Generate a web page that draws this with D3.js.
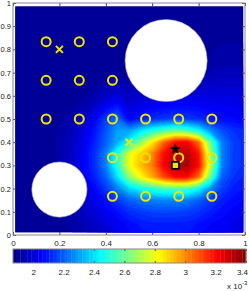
<!DOCTYPE html>
<meta charset="utf-8">
<style>
body { margin: 0; background: #fff; }
svg { display: block; font-family: "Liberation Sans", Arial, sans-serif; }
.axis text { font-size: 8px; fill: #222; }
.axis line { stroke: #444; }
.yaxis text { font-size: 7.5px; }
.frame { fill: none; stroke: #888; }
.obstacle { fill: #fff; stroke: #aaa; stroke-width: 0.6; }
.sensor { fill: none; stroke: #f2e400; stroke-width: 2; }
</style>
<body>
<script src="https://d3js.org/d3.v7.min.js"></script>
<script>

// field samples on a 0.05 grid, rows from y = 1 (top) down to y = 0, columns x = 0 .. 1
var fieldCols = 21, fieldRows = 21, fieldStep = 0.05;
var field = [
  1.90,1.90,1.90,1.90,1.90,1.90,1.90,1.90,1.90,1.90,1.90,1.90,1.90,1.90,1.90,1.90,1.90,1.90,1.90,1.90,1.90,
  1.90,1.90,1.90,1.90,1.90,1.90,1.90,1.90,1.90,1.90,1.90,1.90,1.90,1.90,1.90,1.90,1.90,1.90,1.90,1.90,1.90,
  1.90,1.90,1.90,1.90,1.90,1.90,1.90,1.90,1.90,1.90,1.90,1.90,1.90,1.90,1.90,1.90,1.90,1.90,1.91,1.91,1.91,
  1.90,1.90,1.90,1.90,1.90,1.90,1.90,1.90,1.90,1.90,1.90,1.90,1.90,1.90,1.90,1.90,1.90,1.90,1.91,1.91,1.91,
  1.90,1.90,1.90,1.90,1.90,1.90,1.90,1.90,1.90,1.90,1.90,1.90,1.90,1.90,1.90,1.90,1.90,1.91,1.92,1.92,1.92,
  1.90,1.90,1.90,1.90,1.90,1.90,1.90,1.90,1.90,1.90,1.90,1.90,1.90,1.90,1.90,1.90,1.91,1.92,1.93,1.93,1.93,
  1.90,1.90,1.90,1.90,1.90,1.90,1.90,1.90,1.90,1.90,1.90,1.90,1.90,1.91,1.91,1.92,1.93,1.94,1.95,1.95,1.95,
  1.90,1.90,1.90,1.90,1.90,1.90,1.90,1.91,1.93,1.94,1.94,1.94,1.95,1.95,1.96,1.96,1.97,1.97,1.98,1.98,1.98,
  1.90,1.90,1.90,1.90,1.90,1.90,1.91,1.93,1.97,2.00,1.97,1.98,1.99,2.00,2.00,2.01,2.01,2.01,2.01,2.01,2.00,
  1.90,1.90,1.90,1.90,1.90,1.91,1.93,1.97,2.05,2.10,2.00,2.03,2.05,2.06,2.07,2.07,2.06,2.05,2.04,2.04,2.03,
  1.90,1.90,1.90,1.90,1.91,1.93,1.97,2.05,2.15,2.22,2.05,2.10,2.12,2.14,2.15,2.14,2.12,2.09,2.07,2.06,2.05,
  1.90,1.90,1.90,1.90,1.92,1.95,2.00,2.08,2.18,2.30,2.30,2.40,2.48,2.55,2.60,2.55,2.45,2.28,2.17,2.13,2.11,
  1.90,1.90,1.90,1.90,1.92,1.96,2.02,2.10,2.20,2.32,2.45,2.65,2.85,3.05,3.20,3.22,3.05,2.60,2.25,2.15,2.12,
  1.90,1.90,1.90,1.90,1.92,1.97,2.04,2.12,2.25,2.50,2.78,2.90,3.00,3.20,3.30,3.32,3.18,2.70,2.25,2.15,2.12,
  1.90,1.90,1.90,1.90,1.92,1.97,2.04,2.12,2.25,2.50,2.80,2.92,3.02,3.22,3.32,3.34,3.20,2.75,2.25,2.15,2.12,
  1.90,1.90,1.90,1.90,1.92,1.96,2.03,2.10,2.20,2.40,2.65,2.82,2.95,3.10,3.20,3.20,3.05,2.60,2.20,2.13,2.10,
  1.90,1.90,1.90,1.90,1.92,1.95,2.00,2.06,2.14,2.25,2.38,2.45,2.50,2.55,2.55,2.55,2.45,2.28,2.15,2.10,2.08,
  1.90,1.90,1.90,1.90,1.91,1.94,1.98,2.03,2.08,2.14,2.20,2.23,2.25,2.26,2.26,2.25,2.20,2.14,2.10,2.07,2.06,
  1.90,1.90,1.90,1.90,1.91,1.93,1.96,2.00,2.04,2.08,2.12,2.14,2.16,2.16,2.16,2.15,2.13,2.10,2.07,2.05,2.04,
  1.90,1.90,1.90,1.90,1.91,1.92,1.94,1.97,2.00,2.04,2.07,2.09,2.10,2.10,2.10,2.10,2.08,2.06,2.05,2.03,2.02,
  1.90,1.90,1.90,1.90,1.90,1.91,1.93,1.95,1.98,2.02,2.05,2.07,2.08,2.08,2.08,2.08,2.06,2.05,2.04,2.02,2.01
];

// colour limits (x 1e-3)
var cMin = 1.867, cMax = 3.4;

// sensors
var sensorX = [1/7, 2/7, 3/7, 1/7, 2/7, 3/7, 1/7, 2/7, 3/7, 4/7, 5/7, 6/7, 3/7, 4/7, 5/7, 6/7, 3/7, 4/7, 5/7, 6/7];
var sensorY = [5/6, 5/6, 5/6, 4/6, 4/6, 4/6, 3/6, 3/6, 3/6, 3/6, 3/6, 3/6, 2/6, 2/6, 2/6, 2/6, 1/6, 1/6, 1/6, 1/6];

// obstacles
var obstacleX = [0.66, 0.2];
var obstacleY = [0.752, 0.196];
var obstacleR = [0.177, 0.119];

// other markers
var crossX = [0.2, 0.5], crossY = [0.8, 0.4];
var starX = [0.7], starY = [0.37];
var squareX = [0.7], squareY = [0.3];

var xTicks = [0, 0.2, 0.4, 0.6, 0.8, 1];
var yTicks = [0, 0.1, 0.2, 0.3, 0.4, 0.5, 0.6, 0.7, 0.8, 0.9, 1];
var cTicks = [2, 2.2, 2.4, 2.6, 2.8, 3, 3.2, 3.4];

var width = 249, height = 291;

var svg = d3.select("body").append("svg")
    .attr("width", width)
    .attr("height", height);

var x = d3.scaleLinear().domain([0, 1]).range([13, 245]);
var y = d3.scaleLinear().domain([0, 1]).range([235, 3]);

// jet colormap, 64 levels
var jet = d3.scaleLinear()
    .domain([0, 0.125, 0.375, 0.625, 0.875, 1])
    .range(["#000080", "#0000ff", "#00ffff", "#ffff00", "#ff0000", "#800000"]);
var jetColors = d3.range(64).map(function(k) { return jet((k + 0.5) / 64); });
var color = d3.scaleQuantize().domain([cMin, cMax]).range(jetColors);

// field as filled contours
svg.append("clipPath").attr("id", "fieldClip")
  .append("rect")
    .attr("x", x(0.01))
    .attr("y", y(0.985))
    .attr("width", x(0.992) - x(0.01))
    .attr("height", y(0.012) - y(0.985));

var gridToPlot = d3.geoTransform({
  point: function(px, py) {
    this.stream.point(x(fieldStep * (px - 0.5)), y(1 - fieldStep * (py - 0.5)));
  }
});
var path = d3.geoPath(gridToPlot);

var thresholds = d3.range(64).map(function(k) { return cMin + k * (cMax - cMin) / 64; });
var contours = d3.contours()
    .size([fieldCols, fieldRows])
    .thresholds(thresholds)(field);

svg.append("g")
    .attr("clip-path", "url(#fieldClip)")
  .selectAll("path")
  .data(contours)
  .enter().append("path")
    .attr("d", path)
    .attr("fill", function(d) { return color(d.value + 1e-6); })
    .attr("stroke", function(d) { return color(d.value + 1e-6); })
    .attr("stroke-width", 0.3);

// obstacles
svg.append("g").selectAll("circle")
  .data(obstacleX)
  .enter().append("circle")
    .attr("class", "obstacle")
    .attr("cx", function(d) { return x(d); })
    .attr("cy", function(d, i) { return y(obstacleY[i]); })
    .attr("r", function(d, i) { return x(obstacleR[i]) - x(0); });

// sensors
svg.append("g").selectAll("circle")
  .data(sensorX)
  .enter().append("circle")
    .attr("class", "sensor")
    .attr("cx", function(d) { return x(d); })
    .attr("cy", function(d, i) { return y(sensorY[i]); })
    .attr("r", 4.5);

// crosses
svg.append("g").selectAll("path")
  .data(crossX)
  .enter().append("path")
    .attr("d", d3.symbol().type(d3.symbolTimes).size(34))
    .attr("transform", function(d, i) { return "translate(" + x(d) + "," + y(crossY[i]) + ")"; })
    .attr("fill", "none")
    .attr("stroke", "#f2e400")
    .attr("stroke-width", 2);

// star
svg.append("g").selectAll("path")
  .data(starX)
  .enter().append("path")
    .attr("d", d3.symbol().type(d3.symbolStar).size(26))
    .attr("transform", function(d, i) { return "translate(" + x(d) + "," + y(starY[i]) + ")"; })
    .attr("fill", "#000")
    .attr("stroke", "#000")
    .attr("stroke-width", 0.8);

// square
svg.append("g").selectAll("path")
  .data(squareX)
  .enter().append("path")
    .attr("d", d3.symbol().type(d3.symbolSquare).size(49))
    .attr("transform", function(d, i) { return "translate(" + x(d) + "," + y(squareY[i]) + ")"; })
    .attr("fill", "#f2e400")
    .attr("stroke", "#000")
    .attr("stroke-width", 1.6);

// axes
svg.append("g")
    .attr("class", "axis")
    .attr("transform", "translate(0," + y(0) + ")")
    .call(d3.axisBottom(x).tickValues(xTicks).tickSize(-3).tickPadding(5).tickFormat(d3.format("")))
  .select(".domain").remove();

svg.append("g")
    .attr("class", "axis")
    .attr("transform", "translate(0," + y(1) + ")")
    .call(d3.axisTop(x).tickValues(xTicks).tickSize(-3).tickFormat(""))
  .select(".domain").remove();

svg.append("g")
    .attr("class", "axis yaxis")
    .attr("transform", "translate(" + x(0) + ",0)")
    .call(d3.axisLeft(y).tickValues(yTicks).tickSize(-3).tickPadding(2).tickFormat(d3.format("")))
  .select(".domain").remove();

svg.append("g")
    .attr("class", "axis")
    .attr("transform", "translate(" + x(1) + ",0)")
    .call(d3.axisRight(y).tickValues(yTicks).tickSize(-3).tickFormat(""))
  .select(".domain").remove();

svg.append("rect")
    .attr("class", "frame")
    .attr("x", x(0))
    .attr("y", y(1))
    .attr("width", x(1) - x(0))
    .attr("height", y(0) - y(1));

// colorbar
var cbTop = 249, cbBottom = 263;
var cx = d3.scaleLinear().domain([cMin, cMax]).range([13, 246]);

svg.append("g").selectAll("rect")
  .data(jetColors)
  .enter().append("rect")
    .attr("x", function(d) { return cx(color.invertExtent(d)[0]); })
    .attr("width", function(d) { return cx(color.invertExtent(d)[1]) - cx(color.invertExtent(d)[0]) + 0.3; })
    .attr("y", cbTop)
    .attr("height", cbBottom - cbTop)
    .attr("fill", function(d) { return d; });

var cAxis = svg.append("g")
    .attr("class", "axis")
    .attr("transform", "translate(0," + cbBottom + ")")
    .call(d3.axisBottom(cx).tickValues(cTicks).tickSize(-2).tickPadding(6).tickFormat(d3.format("")));
cAxis.select(".domain").remove();
cAxis.selectAll(".tick").filter(function(d) { return d === cMax; })
  .select("text")
    .attr("text-anchor", "end")
    .attr("dx", 1.5);

svg.append("g")
    .attr("class", "axis")
    .attr("transform", "translate(0," + cbTop + ")")
    .call(d3.axisTop(cx).tickValues(cTicks).tickSize(-2).tickFormat(""))
  .select(".domain").remove();

svg.append("rect")
    .attr("class", "frame")
    .attr("x", cx(cMin))
    .attr("y", cbTop)
    .attr("width", cx(cMax) - cx(cMin))
    .attr("height", cbBottom - cbTop);

var expo = svg.append("text")
    .attr("x", 227)
    .attr("y", 289)
    .attr("font-size", 8)
    .attr("fill", "#222")
    .text("x 10");
expo.append("tspan")
    .attr("dy", -4)
    .attr("font-size", 6)
    .text("-3");

</script>
</body>
